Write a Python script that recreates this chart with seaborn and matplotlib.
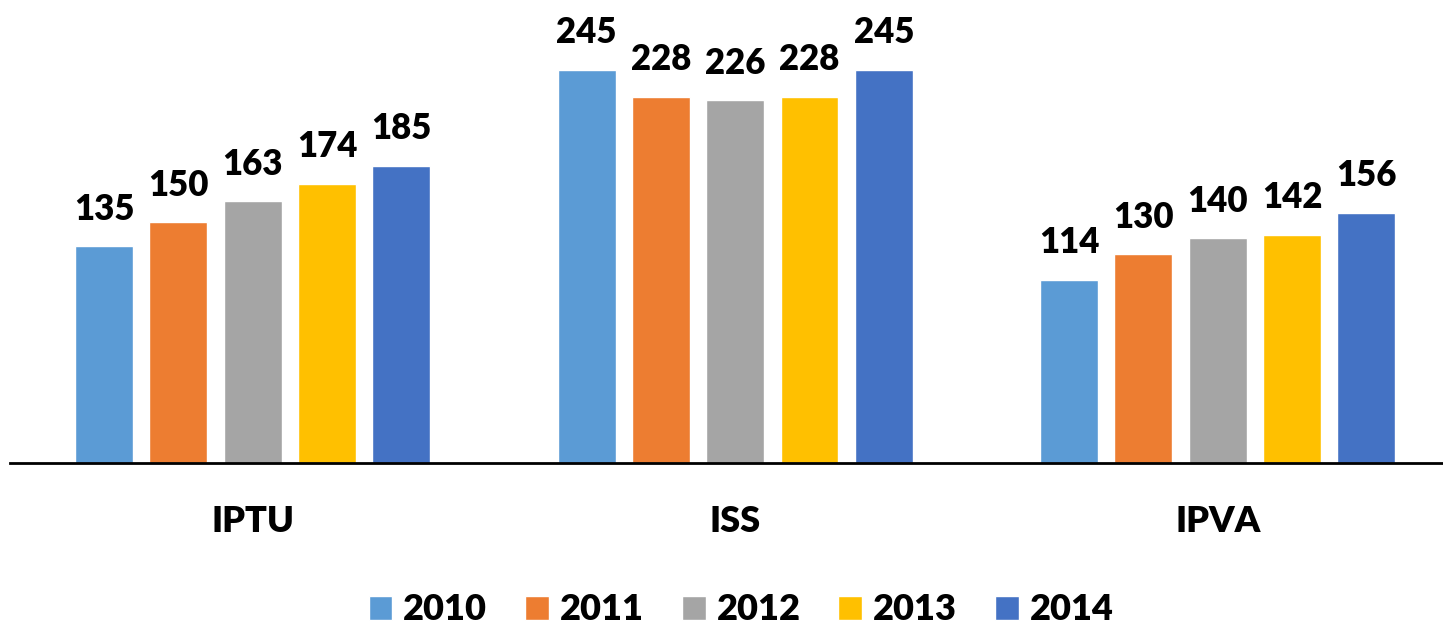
import pandas as pd
import matplotlib
matplotlib.use("Agg")
import matplotlib.pyplot as plt
import seaborn as sns

# data
taxes = ["IPTU", "ISS", "IPVA"]
years = ["2010", "2011", "2012", "2013", "2014"]
v2010 = [135, 245, 114]
v2011 = [150, 228, 130]
v2012 = [163, 226, 140]
v2013 = [174, 228, 142]
v2014 = [185, 245, 156]
colors = ["#5B9BD5", "#ED7D31", "#A5A5A5", "#FFC000", "#4472C4"]

rows = []
for year, vals in zip(years, [v2010, v2011, v2012, v2013, v2014]):
    for tax, v in zip(taxes, vals):
        rows.append({"Imposto": tax, "Ano": year, "Valor": v})
df = pd.DataFrame(rows)

sns.set_style("white")
plt.rcParams["font.family"] = ["Lato", "DejaVu Sans"]
plt.rcParams["font.weight"] = "heavy"
plt.rcParams["text.color"] = "black"
plt.rcParams["xtick.color"] = "black"
plt.rcParams["xtick.labelcolor"] = "black"

fig = plt.figure(figsize=(14.43, 6.27), dpi=100)
ax = fig.add_axes([10 / 1443, 1 - 463 / 627, 1 - 10 / 1443, 463 / 627])

sns.barplot(data=df, x="Imposto", y="Valor", hue="Ano", hue_order=years,
            palette=colors, width=0.77, gap=0.22, saturation=1, ax=ax,
            errorbar=None)

for c in ax.containers:
    ax.bar_label(c, fmt="%d", padding=15, fontsize=25, fontweight="heavy",
                 color="black")

ax.set_ylim(0, 288.6)
ax.set_xlim(-0.503, 2.467)
ax.set_xlabel("")
ax.set_ylabel("")
ax.set_yticks([])
ax.tick_params(axis="x", length=0, pad=30, labelsize=26, labelcolor="black")
for lbl in ax.get_xticklabels():
    lbl.set_fontweight("heavy")

for s in ["top", "right", "left"]:
    ax.spines[s].set_visible(False)
ax.spines["bottom"].set_linewidth(2)
ax.spines["bottom"].set_color("black")

leg = ax.legend(loc="center", bbox_to_anchor=(741 / 1443, 1 - 610 / 627),
                bbox_transform=fig.transFigure, ncol=5, frameon=False,
                prop={"size": 26, "weight": "heavy"}, handlelength=0.66,
                handleheight=0.66, handletextpad=0.3, columnspacing=1.05,
                title=None)
for t in leg.get_texts():
    t.set_color("black")

fig.savefig("out.png", dpi=100)
